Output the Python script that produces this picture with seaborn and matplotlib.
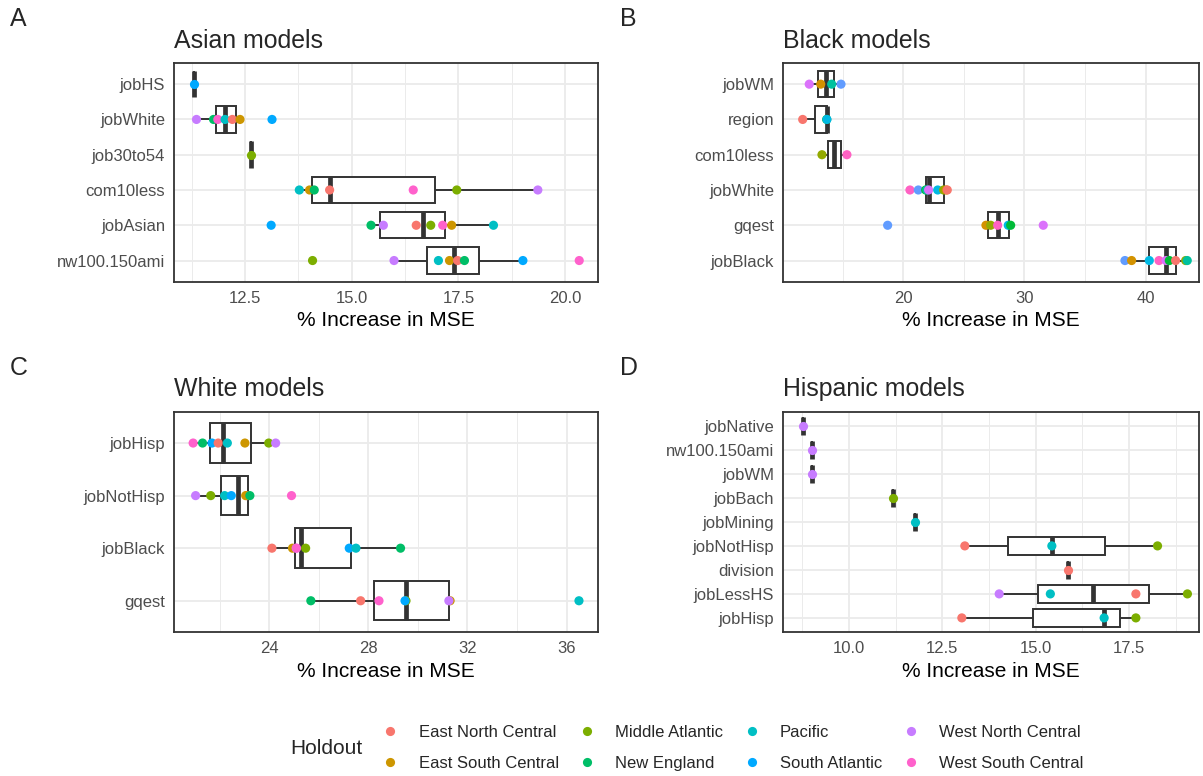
import matplotlib
matplotlib.use("Agg")
import matplotlib.pyplot as plt
from matplotlib.lines import Line2D
from matplotlib.ticker import FixedLocator, FormatStrFormatter
import pandas as pd
import seaborn as sns

sns.set_style("white")
plt.rcParams["font.family"] = ["Liberation Sans", "DejaVu Sans"]

# ---- holdout divisions and colours ---------------------------------------
DIV = {
    "ENC": "East North Central", "ESC": "East South Central",
    "MA": "Middle Atlantic", "MTN": "Mountain", "NE": "New England",
    "PAC": "Pacific", "SA": "South Atlantic",
    "WNC": "West North Central", "WSC": "West South Central",
}
holdouts8 = ["ENC", "ESC", "MA", "NE", "PAC", "SA", "WNC", "WSC"]
holdouts9 = ["ENC", "ESC", "MA", "MTN", "NE", "PAC", "SA", "WNC", "WSC"]
colors8 = ["#F8766D", "#CD9600", "#7CAE00", "#00BE67",
           "#00BFC4", "#00A9FF", "#C77CFF", "#FF61CC"]
colors9 = ["#F8766D", "#D39200", "#93AA00", "#00BA38", "#00C19F",
           "#00B9E3", "#619CFF", "#DB72FB", "#FF61C3"]

# ---- Asian models ----------------------------------------------------------
asian_order = ["jobHS", "jobWhite", "job30to54", "com10less", "jobAsian",
               "nw100.150ami"]
asian_variable = (["jobHS"] + ["jobWhite"] * 7 + ["job30to54"]
                  + ["com10less"] * 7 + ["jobAsian"] * 8
                  + ["nw100.150ami"] * 8)
asian_holdout = ["SA",
                 "WNC", "NE", "WSC", "PAC", "ENC", "ESC", "SA",
                 "MA",
                 "PAC", "ESC", "NE", "ENC", "WSC", "MA", "WNC",
                 "SA", "NE", "WNC", "ENC", "MA", "WSC", "ESC", "PAC",
                 "MA", "WNC", "PAC", "ESC", "ENC", "NE", "SA", "WSC"]
asian_value = [11.29,
               11.36, 11.76, 11.86, 12.03, 12.20, 12.38, 13.13,
               12.64,
               13.77, 14.01, 14.12, 14.48, 16.44, 17.46, 19.36,
               13.11, 15.45, 15.74, 16.51, 16.85, 17.13, 17.34, 18.32,
               14.08, 15.99, 17.03, 17.29, 17.48, 17.64, 19.01, 20.33]

# ---- Black models ----------------------------------------------------------
black_order = ["jobWM", "region", "com10less", "jobWhite", "gqest", "jobBlack"]
black_variable = (["jobWM"] * 4 + ["region"] * 3 + ["com10less"] * 2
                  + ["jobWhite"] * 9 + ["gqest"] * 7 + ["jobBlack"] * 9)
black_holdout = ["WNC", "ESC", "NE", "SA",
                 "ENC", "MTN", "PAC",
                 "MA", "WSC",
                 "WSC", "SA", "MTN", "NE", "WNC", "PAC", "MA", "ESC", "ENC",
                 "SA", "ESC", "MA", "WSC", "PAC", "MTN", "WNC",
                 "SA", "ESC", "PAC", "WSC", "WNC", "MTN", "ENC", "MA", "NE"]
black_value = [12.24, 13.19, 14.09, 14.86,
               11.70, 13.68, 13.70,
               13.29, 15.35,
               20.55, 21.24, 21.85, 21.95, 22.09, 22.84, 23.33, 23.55, 23.63,
               18.71, 26.82, 27.21, 27.79, 28.66, 28.86, 31.55,
               38.29, 38.84, 40.30, 41.10, 41.68, 41.95, 42.47, 43.30, 43.43]

# ---- White models ----------------------------------------------------------
white_order = ["jobHisp", "jobNotHisp", "jobBlack", "gqest"]
white_variable = (["jobHisp"] * 8 + ["jobNotHisp"] * 8 + ["jobBlack"] * 8
                  + ["gqest"] * 8)
white_holdout = ["WSC", "NE", "SA", "ENC", "PAC", "ESC", "MA", "WNC",
                 "WNC", "MA", "PAC", "SA", "ENC", "ESC", "NE", "WSC",
                 "ENC", "ESC", "WNC", "WSC", "MA", "SA", "PAC", "NE",
                 "NE", "ENC", "WSC", "MA", "SA", "ESC", "WNC", "PAC"]
white_value = [20.93, 21.31, 21.69, 21.94, 22.31, 23.02, 23.98, 24.26,
               21.03, 21.64, 22.20, 22.47, 23.10, 23.05, 23.22, 24.90,
               24.11, 24.94, 25.09, 25.10, 25.47, 27.23, 27.50, 29.30,
               25.68, 27.69, 28.43, 29.52, 29.48, 31.30, 31.25, 36.50]

# ---- Hispanic models -------------------------------------------------------
hisp_order = ["jobNative", "nw100.150ami", "jobWM", "jobBach", "jobMining",
              "jobNotHisp", "division", "jobLessHS", "jobHisp"]
hisp_variable = (["jobNative", "nw100.150ami", "jobWM", "jobBach",
                  "jobMining"] + ["jobNotHisp"] * 3 + ["division"]
                 + ["jobLessHS"] * 4 + ["jobHisp"] * 3)
hisp_holdout = ["WNC", "WNC", "WNC", "MA", "PAC",
                "ENC", "PAC", "MA",
                "ENC",
                "WNC", "PAC", "ENC", "MA",
                "ENC", "PAC", "MA"]
hisp_value = [8.76, 9.00, 9.00, 11.19, 11.77,
              13.10, 15.43, 18.26,
              15.85,
              14.02, 15.39, 17.68, 19.06,
              13.02, 16.83, 17.68]


def frame(variable, holdout, value):
    return pd.DataFrame({"variable": variable,
                         "holdout": [DIV[h] for h in holdout],
                         "value": value})


W, H = 1203, 776
fig = plt.figure(figsize=(W / 100, H / 100), dpi=100)

DARK = "#333333"
GRID = "#EBEBEB"
TICK_FS = 12.0
AXIS_FS = 15.0
TITLE_FS = 17.9


def panel(rect_px, df, order, palette, xlim, ticks, minor, fmt, title, tag,
          tag_x):
    l, r, t, b = rect_px
    ax = fig.add_axes([l / W, 1 - b / H, (r - l) / W, (b - t) / H])
    sns.boxplot(data=df, x="value", y="variable", order=order, ax=ax,
                width=0.75, color="white", linecolor=DARK, linewidth=1.4,
                showfliers=False, showcaps=False, whis=1.5,
                medianprops=dict(linewidth=3.4, color=DARK))
    sns.stripplot(data=df, x="value", y="variable", order=order,
                  hue="holdout", palette=palette, jitter=False, size=6.6,
                  linewidth=0, legend=False, ax=ax, zorder=4)
    ax.set_xlim(*xlim)
    ax.set_ylim(len(order) - 1 + 0.6, -0.6)
    ax.xaxis.set_major_locator(FixedLocator(ticks))
    ax.xaxis.set_minor_locator(FixedLocator(minor))
    ax.xaxis.set_major_formatter(FormatStrFormatter(fmt))
    ax.set_axisbelow(True)
    ax.grid(False)
    ax.grid(which="major", axis="both", color=GRID, linewidth=1.3)
    ax.grid(which="minor", axis="x", color=GRID, linewidth=0.7)
    for s in ax.spines.values():
        s.set_visible(True)
        s.set_color(DARK)
        s.set_linewidth(1.3)
    ax.tick_params(which="major", length=3.6, width=1.1, color=DARK,
                   labelsize=TICK_FS, labelcolor="#4D4D4D", pad=3)
    ax.tick_params(which="minor", length=0)
    ax.set_ylabel("")
    ax.set_xlabel("% Increase in MSE", fontsize=AXIS_FS, color="black",
                  labelpad=4)
    fig.text(l / W, 1 - (t - 15) / H, title, fontsize=TITLE_FS, ha="left",
             va="baseline")
    fig.text(tag_x / W, 1 - (t - 36.5) / H, tag, fontsize=TITLE_FS,
             ha="left", va="baseline")
    return ax


pal8 = {DIV[h]: c for h, c in zip(holdouts8, colors8)}
pal9 = {DIV[h]: c for h, c in zip(holdouts9, colors9)}

panel((174.3, 598.0, 63.0, 281.7), frame(asian_variable, asian_holdout,
                                         asian_value),
      asian_order, pal8, (10.84, 20.77), [12.5, 15.0, 17.5, 20.0],
      [11.25, 13.75, 16.25, 18.75], "%.1f", "Asian models", "A", 10)
panel((783.3, 1199.0, 63.0, 281.7), frame(black_variable, black_holdout,
                                          black_value),
      black_order, pal9, (10.1, 44.4), [20, 30, 40], [15, 25, 35],
      "%d", "Black models", "B", 620)
panel((174.3, 598.3, 411.5, 632.3), frame(white_variable, white_holdout,
                                          white_value),
      white_order, pal8, (20.17, 37.28), [24, 28, 32, 36], [22, 26, 30, 34],
      "%d", "White models", "C", 10)
panel((783.3, 1199.0, 411.5, 632.3), frame(hisp_variable, hisp_holdout,
                                           hisp_value),
      hisp_order, pal8, (8.24, 19.37), [10.0, 12.5, 15.0, 17.5],
      [8.75, 11.25, 13.75, 16.25, 18.75], "%.1f", "Hispanic models", "D",
      620)

# ---- shared legend ---------------------------------------------------------
handles = [Line2D([], [], linestyle="none", marker="o", markersize=6.6,
                  markerfacecolor=c, markeredgewidth=0)
           for c in colors8]
labels = [DIV[h] for h in holdouts8]
fig.legend(handles, labels, ncol=4, loc="center left",
           bbox_to_anchor=(382 / W, 1 - 748 / H), frameon=False,
           fontsize=12.0, handlelength=1.0, handletextpad=1.2,
           columnspacing=1.2, labelspacing=0.95, borderaxespad=0,
           borderpad=0)
fig.text(290 / W, 1 - 748 / H, "Holdout", fontsize=AXIS_FS, ha="left",
         va="center")

fig.savefig("out.png", dpi=100)
